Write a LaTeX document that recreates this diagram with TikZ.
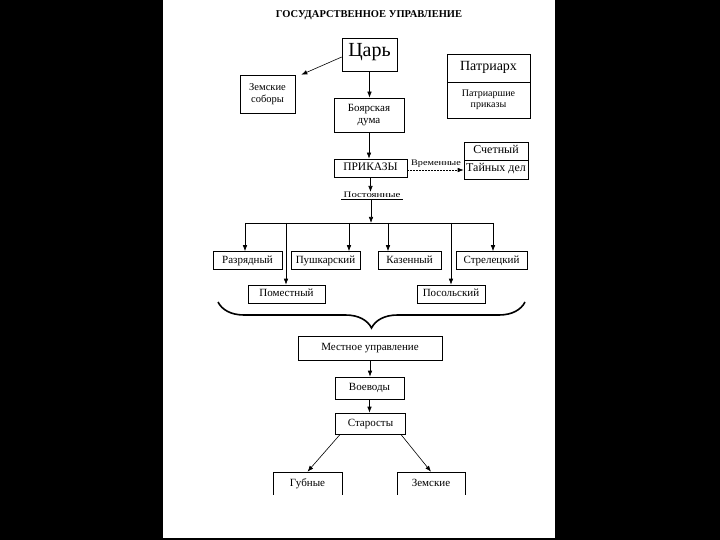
\documentclass[tikz,border=0pt]{standalone}
\usepackage{fontspec}
\usepackage{graphicx}
\setmainfont{Liberation Serif}
\usetikzlibrary{arrows.meta,decorations.pathreplacing,calc}
\begin{document}
\begin{tikzpicture}[x=1pt,y=-1pt,
  base/.style={draw, line width=0.6pt, inner sep=0pt, font=\fontsize{11}{12}\selectfont},
  box/.style={base, text height=0.7em, text depth=0.2em},
  box2/.style={base, align=center},
  arr/.style={-{Latex[length=6pt,width=4.5pt]}, line width=0.6pt},
  plain/.style={line width=0.6pt},
  lbl/.style={inner sep=0pt, font=\fontsize{8.5}{10}\selectfont}]
\fill[black] (0,0) rectangle (720,540);
\fill[white] (163,0) rectangle (555,538);
\useasboundingbox (0,0) rectangle (720,540);

\node[inner sep=0pt, font=\bfseries\fontsize{10.5}{12}\selectfont] (title) at (369,15) {ГОСУДАРСТВЕННОЕ УПРАВЛЕНИЕ};

\node[box, minimum width=55pt, minimum height=33pt, font=\fontsize{20}{22}\selectfont] (tsar) at (369.5,54.5) {Царь};
\node[box2, minimum width=55pt, minimum height=38pt, font=\fontsize{10.5}{12}\selectfont] (zemsob) at (267.5,94) {Земские\\соборы};
\node[box2, minimum width=70pt, minimum height=34pt] (boyar) at (369,115) {Боярская\\дума};
\node[box, minimum width=83pt, minimum height=28pt, font=\fontsize{14}{16}\selectfont] (patr) at (488.5,68) {Патриарх};
\node[box2, minimum width=83pt, minimum height=36pt, font=\fontsize{10}{11}\selectfont] (patrpr) at (488.5,100) {Патриаршие\\приказы};

\node[box, minimum width=73pt, minimum height=18pt, font=\fontsize{11.5}{13}\selectfont] (prikazy) at (370.5,168) {ПРИКАЗЫ};
\node[box, minimum width=64pt, minimum height=18pt, font=\fontsize{12}{13}\selectfont] (schet) at (496,151) {Счетный};
\node[box, minimum width=64pt, minimum height=19pt, font=\fontsize{12}{13}\selectfont] (tayn) at (496,169.5) {Тайных дел};
\node[lbl] (vrem) at (436,164) {\scalebox{1.2}[1]{Временные}};
\node[lbl] (post) at (372,195) {\scalebox{1.27}[1]{Постоянные}};

\draw[arr] (tsar.south) -- (tsar.south |- boyar.north);
\draw[arr] ($(tsar.west)+(0,2.5)$) -- ($(zemsob.north east)+(6,0)$);
\draw[arr] (boyar.south) -- (boyar.south |- prikazy.north);
\draw[arr, dash pattern=on 2pt off 1pt] ($(prikazy.east)+(0,2)$) -- ($(prikazy.east -| tayn.west)+(0,2)$);
\draw[arr] (prikazy.south) -- (prikazy.south |- post.north);

\coordinate (ulL) at ($(post.center)+(-31,4)$);
\coordinate (ulR) at ($(post.center)+(31,4)$);
\coordinate (ulC) at ($(post.center)+(-1,4)$);
\draw[plain] (ulL) -- (ulR);

\coordinate (d1) at (245,223);
\coordinate (d2) at (286,223);
\coordinate (d3) at (349,223);
\coordinate (dm) at (ulC |- d1);
\coordinate (d4) at (388,223);
\coordinate (d5) at (451,223);
\coordinate (d6) at (493,223);
\draw[plain] (d1) -- (d6);
\draw[arr] (ulC) -- (dm);

\node[box, minimum width=69pt, minimum height=18pt] (razr) at (247.5,260.5) {Разрядный};
\node[box, minimum width=69pt, minimum height=18pt] (push) at (325.5,260.5) {Пушкарский};
\node[box, minimum width=63pt, minimum height=18pt] (kazen) at (409.5,260.5) {Казенный};
\node[box, minimum width=71pt, minimum height=18pt] (strel) at (491.5,260.5) {Стрелецкий};
\node[box, minimum width=77pt, minimum height=18pt] (pomest) at (286.5,294) {Поместный};
\node[box, minimum width=68pt, minimum height=18pt] (posol) at (451,294) {Посольский};

\draw[arr] (d1) -- (d1 |- razr.north);
\draw[arr] (d2) -- (d2 |- pomest.north);
\draw[arr] (d3) -- (d3 |- push.north);
\draw[arr] (d4) -- (d4 |- kazen.north);
\draw[arr] (d5) -- (d5 |- posol.north);
\draw[arr] (d6) -- (d6 |- strel.north);

\coordinate (brR) at (525,302);
\coordinate (brL) at (218,302);
\draw[decorate, decoration={brace, amplitude=26pt}, line width=1.6pt] (brR) -- (brL);

\node[box, minimum width=144pt, minimum height=24pt] (mest) at (370,348) {Местное управление};
\node[box, minimum width=69pt, minimum height=22pt] (voev) at (369.5,388) {Воеводы};
\node[box, minimum width=70pt, minimum height=21pt] (star) at (370.5,423.5) {Старосты};

\draw[arr] (mest.south) -- (mest.south |- voev.north);
\draw[arr] (voev.south) -- (voev.south |- star.north);

\begin{scope}
\clip (0,0) rectangle (720,494.5);
\node[box, minimum width=69pt, minimum height=24pt] (gub) at (307.5,484) {Губные};
\node[box, minimum width=68pt, minimum height=24pt] (zem) at (431,484) {Земские};
\end{scope}
\draw[arr] ($(star.south west)+(5,0)$) -- (gub.north);
\draw[arr] ($(star.south east)+(-5,0)$) -- (zem.north);
\end{tikzpicture}
\end{document}
